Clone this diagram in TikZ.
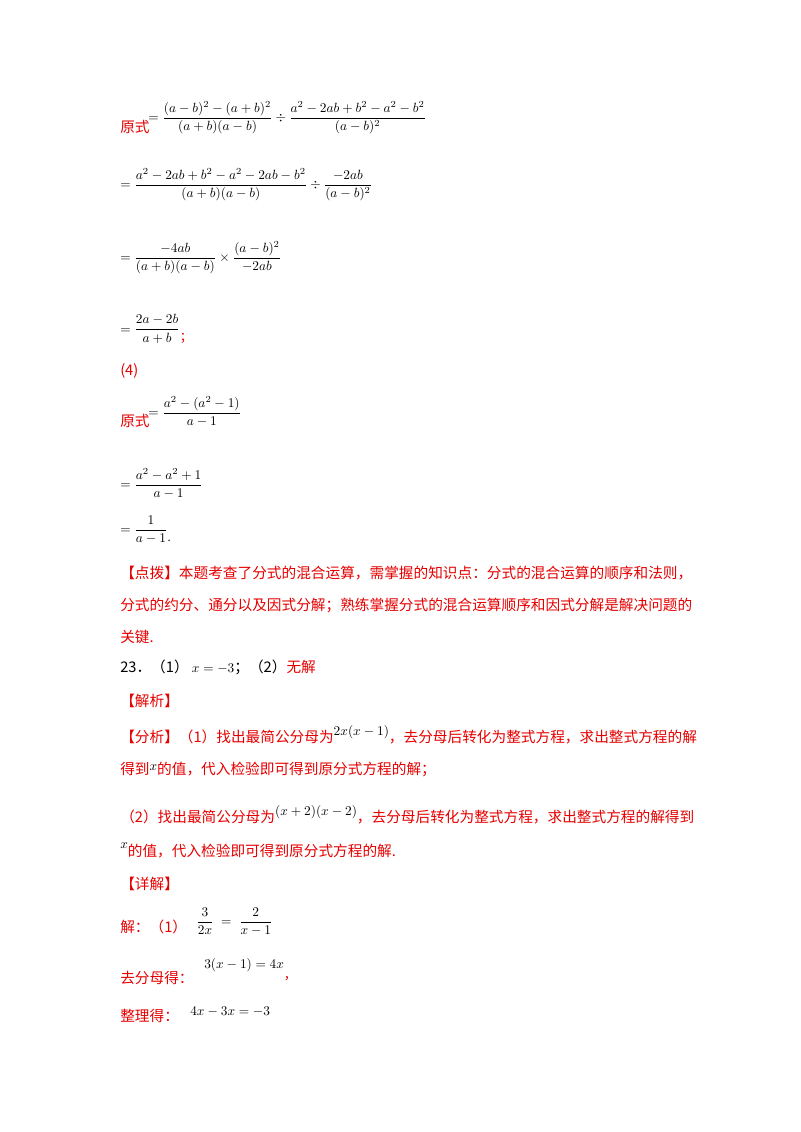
\documentclass[tikz,border=0pt]{standalone}
\usepackage{amsmath}
\usepackage{fontspec}
\setmainfont{Liberation Serif}
\newfontfamily\cjk{Noto Sans CJK SC}
\definecolor{myred}{RGB}{230,0,0}
\begin{document}
\begin{tikzpicture}[x=0.75pt,y=-0.75pt,
  t/.style={anchor=west,inner sep=0pt,font=\fontsize{11}{13}\selectfont\cjk},
  r/.style={t,text=myred},
  m/.style={anchor=west,inner sep=0pt,font=\fontsize{9.6}{12}\selectfont}]
\useasboundingbox[fill=white] (0,0) rectangle (800,1132);
\node[r] (a1) at (120,127) {原式};
\node[m] (b1) at (148,118) {$=\dfrac{(a-b)^2-(a+b)^2}{(a+b)(a-b)}\div\dfrac{a^2-2ab+b^2-a^2-b^2}{(a-b)^2}$};
\node[m] (b2) at (120,185) {$=\dfrac{a^2-2ab+b^2-a^2-2ab-b^2}{(a+b)(a-b)}\div\dfrac{-2ab}{(a-b)^2}$};
\node[m] (b3) at (120,258) {$=\dfrac{-4ab}{(a+b)(a-b)}\times\dfrac{(a-b)^2}{-2ab}$};
\node[m] (b4) at (120,329) {$=\dfrac{2a-2b}{a+b}$\textcolor{myred}{\cjk\raisebox{-6pt}{；}}};
\node[r] (p4) at (120,371) {(4)};
\node[r] (a2) at (120,421) {原式};
\node[m] (c1) at (148,412) {$=\dfrac{a^2-(a^2-1)}{a-1}$};
\node[m] (c2) at (120,484) {$=\dfrac{a^2-a^2+1}{a-1}$};
\node[m] (c3) at (120,530) {$=\dfrac{1}{a-1}$\raisebox{-6pt}{.}};
\node[r] (d1) at (120,573) {【点拨】本题考查了分式的混合运算，需掌握的知识点：分式的混合运算的顺序和法则，};
\node[r] (d2) at (120,605) {分式的约分、通分以及因式分解；熟练掌握分式的混合运算顺序和因式分解是解决问题的};
\node[r] (d3) at (120,637) {关键.};
\node[t] (e1) at (120,667) {23．（1）\ \fontsize{9.6}{12}\selectfont$x=-3$\fontsize{11}{13}\selectfont；（2）\textcolor{myred}{无解}};
\node[r] (e2) at (120,701) {【解析】};
\node[r] (f1) at (120,735) {【分析】（1）找出最简公分母为\textcolor{black}{\fontsize{9.6}{12}\selectfont\raisebox{5pt}{$2x(x-1)$}}，去分母后转化为整式方程，求出整式方程的解};
\node[r] (f2) at (120,769) {得到\textcolor{black}{\fontsize{9.6}{12}\selectfont\raisebox{3pt}{$x$}}的值，代入检验即可得到原分式方程的解；};
\node[r] (g1) at (120,815) {（2）找出最简公分母为\textcolor{black}{\fontsize{9.6}{12}\selectfont\raisebox{5pt}{$(x+2)(x-2)$}}，去分母后转化为整式方程，求出整式方程的解得到};
\node[r] (g2) at (120,850) {\textcolor{black}{\fontsize{9.6}{12}\selectfont\raisebox{6pt}{$x$}}的值，代入检验即可得到原分式方程的解.};
\node[r] (h1) at (120,884) {【详解】};
\node[r] (i1) at (120,927) {解：（1）};
\node[m] (i2) at (196,922) {$\dfrac{3}{2x}\;=\;\dfrac{2}{x-1}$};
\node[r] (j1) at (120,978) {去分母得：};
\node[m] (j2) at (204,970) {$3(x-1)=4x$\textcolor{myred}{\cjk\raisebox{-8pt}{，}}};
\node[r] (k1) at (120,1016) {整理得：};
\node[m] (k2) at (190,1012) {$4x-3x=-3$};
\end{tikzpicture}
\end{document}
